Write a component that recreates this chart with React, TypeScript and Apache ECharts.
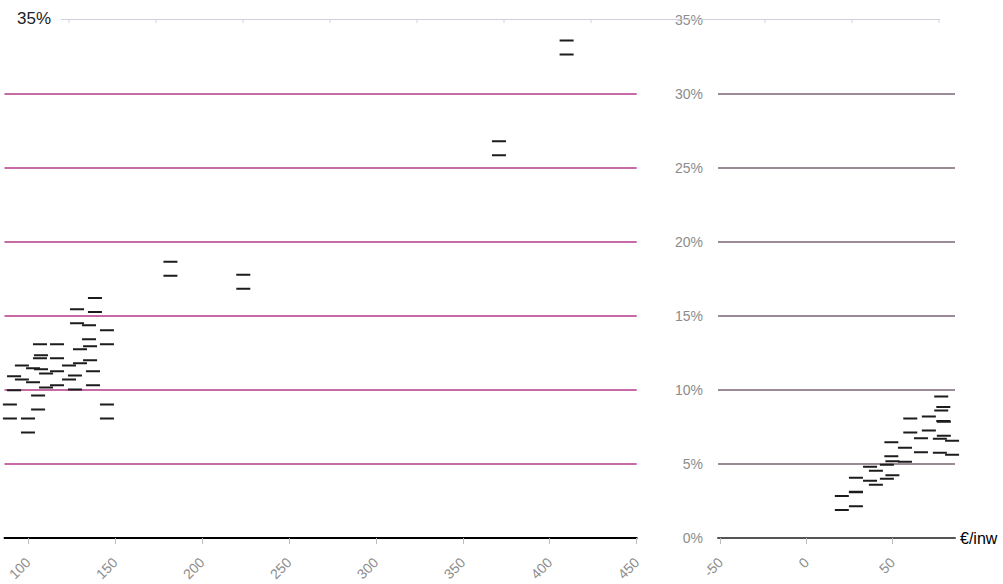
import React, { useEffect, useRef } from "react";
import * as echarts from "echarts";

// Spending per inhabitant (€/inw) and share (%) for each marker
const spendPerInhabitant = [
  181.9, 223.8, 370.8, 409.7,
  138.5, 128.2, 135.1, 145.4, 116.7, 135.7, 129.9, 106.9, 137.4, 116.7, 123.6,
  110.4, 92.0, 145.4, 105.8, 100.0, 89.6, 102.9, 96.5, 127.0, 107.5,
  84.6,
  20.5, 28.7, 28.7, 36.9, 40.3, 49.3, 49.9, 46.7, 57.2, 60.3, 71.1, 66.5, 77.5,
  79.5, 79.8, 78.3,
];
const sharePercent = [
  18.19, 17.32, 26.34, 33.15,
  15.74, 14.99, 13.91, 13.57, 12.62, 12.48, 12.28, 12.62, 10.79, 10.79, 11.19,
  10.65, 10.45, 8.55, 9.16, 7.6, 8.55, 10.99, 11.19, 10.51, 11.87,
  6.1,
  2.37, 2.61, 3.59, 4.34, 4.07, 6.0, 4.71, 4.48, 5.63, 7.6, 7.73, 6.27, 6.24,
  8.38, 7.38, 9.09,
];
const xTickLabelsLeft = [100, 150, 200, 250, 300, 350, 400, 450];
const xTickLabelsRight = [-50, 0, 50];
const yMax = 35;
const yStep = 5;

const FONT = "Liberation Sans";

export default function App() {
  const ref = useRef<HTMLDivElement>(null);
  useEffect(() => {
    document.body.style.margin = "0";
    const chart = echarts.init(ref.current!, null, { renderer: "svg" });
    const data = spendPerInhabitant.map((x, i) => [x, sharePercent[i]]);
    const symbol = "path://M0,0H14V2H0Z M0,14H14V16H0Z";
    const topTicks: any[] = [];
    for (let k = 0; k <= 10; k++) {
      const x = 69 + 87 * k;
      topTicks.push({
        type: "line",
        shape: { x1: x, y1: 19.5, x2: x, y2: 23 },
        style: { stroke: "#d4d4dc", lineWidth: 1 },
        z: 100,
      });
    }
    const labelColor = "#8c8c8c";
    const pink = "#c86aa6";
    const pinkDark = "#7a6474";
    chart.setOption({
      animation: false,
      grid: [
        { left: 4.5, right: 366.3, top: 20, height: 518 },
        { left: 718, right: 48, top: 20, height: 518 },
      ],
      xAxis: [
        {
          type: "value",
          gridIndex: 0,
          min: 86.5,
          max: 450,
          axisLine: { onZero: true, lineStyle: { color: "#000", width: 2 } },
          axisTick: {
            customValues: xTickLabelsLeft,
            length: 6,
            lineStyle: { color: "#bbb" },
          },
          axisLabel: {
            customValues: xTickLabelsLeft,
            rotate: 45,
            margin: 22,
            color: labelColor,
            fontSize: 14,
            fontFamily: FONT,
          },
          splitLine: { show: false },
        },
        {
          type: "value",
          gridIndex: 1,
          min: -51.5,
          max: 86.3,
          name: "€/inw",
          nameLocation: "end",
          nameGap: 5,
          nameTextStyle: { color: "#000", fontSize: 16, fontFamily: FONT },
          axisLine: { onZero: true, lineStyle: { color: "#555", width: 2 } },
          axisTick: {
            customValues: xTickLabelsRight,
            length: 6,
            lineStyle: { color: "#bbb" },
          },
          axisLabel: {
            customValues: xTickLabelsRight,
            rotate: 45,
            margin: 22,
            color: labelColor,
            fontSize: 14,
            fontFamily: FONT,
          },
          splitLine: { show: false },
        },
      ],
      yAxis: [
        {
          type: "value",
          gridIndex: 0,
          min: 0,
          max: yMax,
          interval: yStep,
          axisLabel: { show: false },
          axisLine: { show: false },
          axisTick: { show: false },
          splitLine: {
            show: true,
            showMaxLine: false,
            lineStyle: { color: [pink], width: 2, opacity: 1 },
          },
        },
        {
          type: "value",
          gridIndex: 1,
          min: 0,
          max: yMax,
          interval: yStep,
          axisLabel: {
            formatter: "{value}%",
            margin: 15,
            color: labelColor,
            fontSize: 14,
            fontFamily: FONT,
          },
          axisLine: { show: false },
          axisTick: { show: false },
          splitLine: {
            show: true,
            showMaxLine: false,
            lineStyle: { color: [pinkDark], width: 1.5, opacity: 1 },
          },
        },
      ],
      series: [
        {
          type: "scatter",
          xAxisIndex: 0,
          yAxisIndex: 0,
          clip: true,
          data,
          symbol,
          symbolSize: [14, 16],
          itemStyle: { color: "#1c1c1c", opacity: 1 },
        },
        {
          type: "scatter",
          xAxisIndex: 1,
          yAxisIndex: 1,
          clip: true,
          data,
          symbol,
          symbolSize: [14, 16],
          itemStyle: { color: "#1c1c1c", opacity: 1 },
        },
      ],
      graphic: [
        {
          type: "line",
          shape: { x1: 61, y1: 19.5, x2: 940, y2: 19.5 },
          style: { stroke: "#d0d0d8", lineWidth: 1 },
          z: 100,
        },
        ...topTicks,
        {
          type: "text",
          left: 17,
          top: 10,
          style: { text: "35%", fontSize: 17, fill: "#222", fontFamily: FONT },
          z: 100,
        },
      ],
    });
    return () => chart.dispose();
  }, []);
  return <div ref={ref} style={{ width: 1003, height: 584 }} />;
}
